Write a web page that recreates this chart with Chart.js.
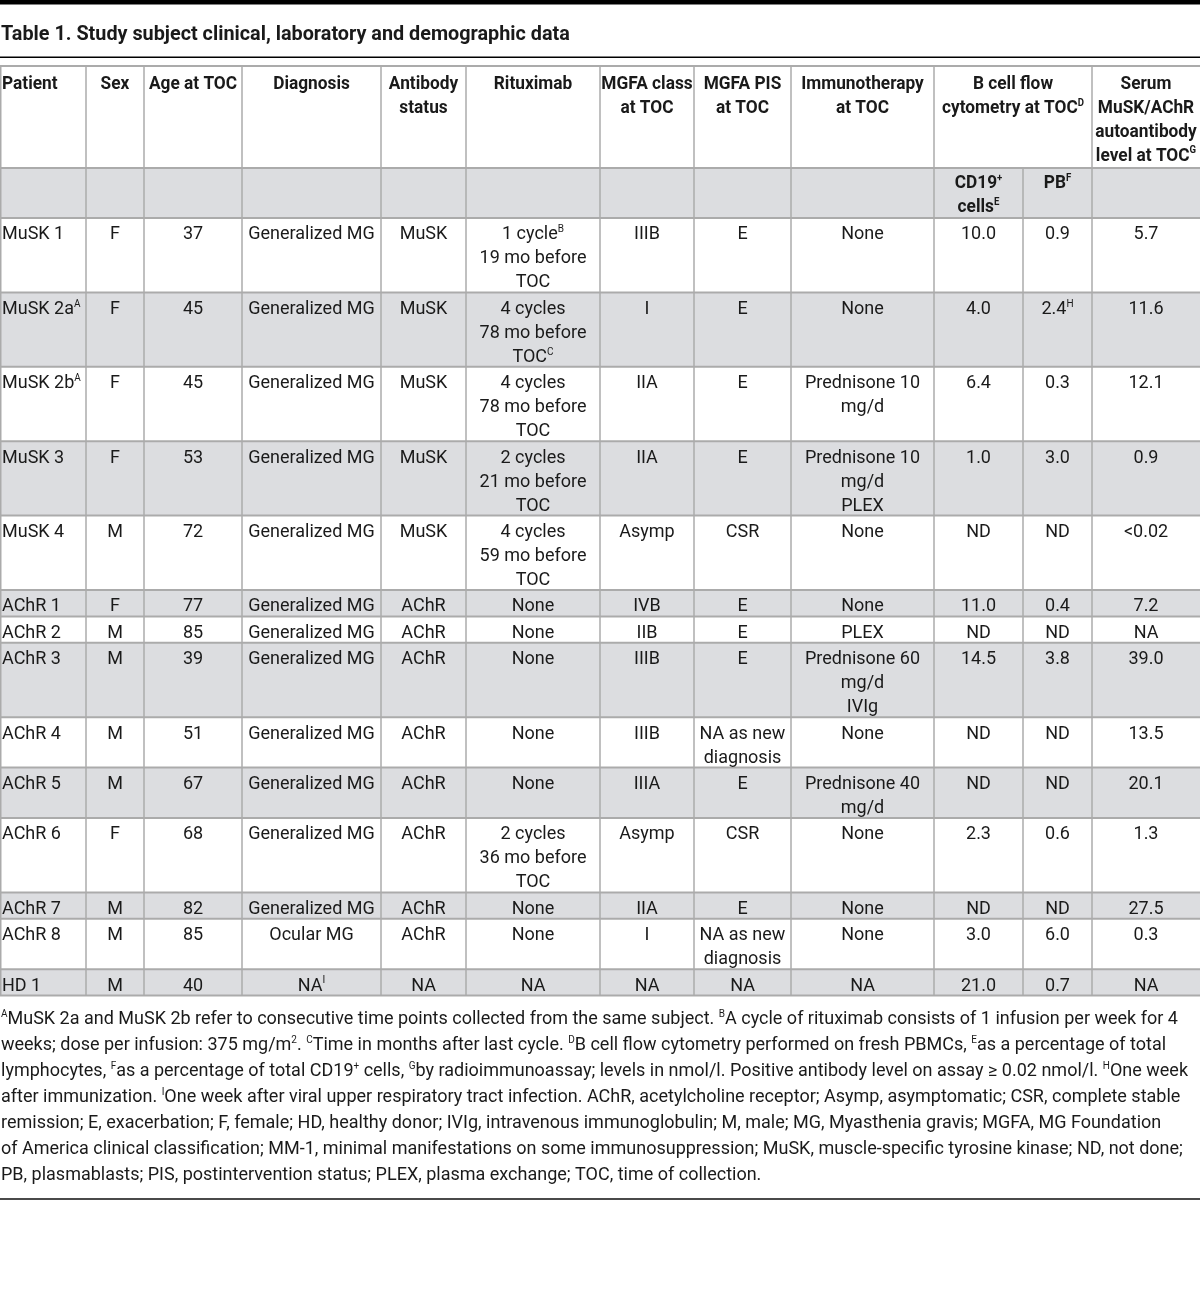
<!DOCTYPE html>
<html>
<head>
<meta charset="utf-8">
<script src="https://cdn.jsdelivr.net/npm/chart.js@4"></script>
<style>
  html, body { margin: 0; padding: 0; background: #fff; }
  canvas { display: block; }
</style>
</head>
<body>
<canvas id="tableChart" width="1200" height="1307"></canvas>
<script>
// table content, "^X" marks a superscript, "\n" a line break inside a cell
const title = 'Table 1. Study subject clinical, laboratory and demographic data';
const headers = ['Patient', 'Sex', 'Age at TOC', 'Diagnosis', 'Antibody\nstatus', 'Rituximab',
    'MGFA class\nat TOC', 'MGFA PIS\nat TOC', 'Immunotherapy\nat TOC', 'B cell flow\ncytometry at TOC^D',
    'Serum\nMuSK/AChR\nautoantibody\nlevel at TOC^G'];
const subHeaders = ['CD19^+\ncells^E', 'PB^F'];

const patients = ['MuSK 1', 'MuSK 2a^A', 'MuSK 2b^A', 'MuSK 3', 'MuSK 4', 'AChR 1', 'AChR 2', 'AChR 3',
    'AChR 4', 'AChR 5', 'AChR 6', 'AChR 7', 'AChR 8', 'HD 1'];
const sexes = ['F', 'F', 'F', 'F', 'M', 'F', 'M', 'M', 'M', 'M', 'F', 'M', 'M', 'M'];
const ages = ['37', '45', '45', '53', '72', '77', '85', '39', '51', '67', '68', '82', '85', '40'];
const diagnoses = ['Generalized MG', 'Generalized MG', 'Generalized MG', 'Generalized MG', 'Generalized MG',
    'Generalized MG', 'Generalized MG', 'Generalized MG', 'Generalized MG', 'Generalized MG',
    'Generalized MG', 'Generalized MG', 'Ocular MG', 'NA^I'];
const antibodyStatus = ['MuSK', 'MuSK', 'MuSK', 'MuSK', 'MuSK', 'AChR', 'AChR', 'AChR', 'AChR', 'AChR',
    'AChR', 'AChR', 'AChR', 'NA'];
const rituximab = ['1 cycle^B\n19 mo before\nTOC', '4 cycles\n78 mo before\nTOC^C', '4 cycles\n78 mo before\nTOC',
    '2 cycles\n21 mo before\nTOC', '4 cycles\n59 mo before\nTOC', 'None', 'None', 'None', 'None', 'None',
    '2 cycles\n36 mo before\nTOC', 'None', 'None', 'NA'];
const mgfaClass = ['IIIB', 'I', 'IIA', 'IIA', 'Asymp', 'IVB', 'IIB', 'IIIB', 'IIIB', 'IIIA', 'Asymp', 'IIA', 'I', 'NA'];
const mgfaPis = ['E', 'E', 'E', 'E', 'CSR', 'E', 'E', 'E', 'NA as new\ndiagnosis', 'E', 'CSR', 'E',
    'NA as new\ndiagnosis', 'NA'];
const immunotherapy = ['None', 'None', 'Prednisone 10\nmg/d', 'Prednisone 10\nmg/d\nPLEX', 'None', 'None', 'PLEX',
    'Prednisone 60\nmg/d\nIVIg', 'None', 'Prednisone 40\nmg/d', 'None', 'None', 'None', 'NA'];
const cd19Cells = ['10.0', '4.0', '6.4', '1.0', 'ND', '11.0', 'ND', '14.5', 'ND', 'ND', '2.3', 'ND', '3.0', '21.0'];
const plasmablasts = ['0.9', '2.4^H', '0.3', '3.0', 'ND', '0.4', 'ND', '3.8', 'ND', 'ND', '0.6', 'ND', '6.0', '0.7'];
const serumLevels = ['5.7', '11.6', '12.1', '0.9', '<0.02', '7.2', 'NA', '39.0', '13.5', '20.1', '1.3', '27.5', '0.3', 'NA'];

const footnotes = [
    '^AMuSK 2a and MuSK 2b refer to consecutive time points collected from the same subject. ^BA cycle of rituximab consists of 1 infusion per week for 4',
    'weeks; dose per infusion: 375 mg/m^2. ^CTime in months after last cycle. ^DB cell flow cytometry performed on fresh PBMCs, ^Eas a percentage of total',
    'lymphocytes, ^Fas a percentage of total CD19^+ cells, ^Gby radioimmunoassay; levels in nmol/l. Positive antibody level on assay \u2265 0.02 nmol/l. ^HOne week',
    'after immunization. ^IOne week after viral upper respiratory tract infection. AChR, acetylcholine receptor; Asymp, asymptomatic; CSR, complete stable',
    'remission; E, exacerbation; F, female; HD, healthy donor; IVIg, intravenous immunoglobulin; M, male; MG, Myasthenia gravis; MGFA, MG Foundation',
    'of America clinical classification; MM-1, minimal manifestations on some immunosuppression; MuSK, muscle-specific tyrosine kinase; ND, not done;',
    'PB, plasmablasts; PIS, postintervention status; PLEX, plasma exchange; TOC, time of collection.'
];

// layout (in the chart's value units)
const colEdges = [0, 86, 144, 242, 381, 466, 600, 694, 791, 934, 1023, 1092, 1200];
const tableTop = 66, headerHeight = 102, subHeaderHeight = 50;
const lineStep = 24, rowPad = 2.4;
const FONT = 'Roboto, "Noto Sans", sans-serif';
const INK = '#1a1a1a', GRID = '#ababab', STRIPE = '#dcdde0';

const columns = [patients, sexes, ages, diagnoses, antibodyStatus, rituximab, mgfaClass, mgfaPis,
    immunotherapy, cd19Cells, plasmablasts, serumLevels];

function parts(text) {
    const out = [];
    const re = /\^(.)/g;
    let last = 0, m;
    while ((m = re.exec(text))) {
        if (m.index > last) out.push({t: text.slice(last, m.index), sup: false});
        out.push({t: m[1], sup: true});
        last = re.lastIndex;
    }
    if (last < text.length) out.push({t: text.slice(last), sup: false});
    return out;
}

function drawRich(ctx, text, x, y, align, size, weight, sx) {
    const segs = parts(text);
    const big = weight + ' ' + size + 'px ' + FONT;
    const small = weight + ' ' + Math.round(size * 0.55) + 'px ' + FONT;
    let w = 0;
    segs.forEach(s => { ctx.font = s.sup ? small : big; s.w = ctx.measureText(s.t).width; w += s.w; });
    w *= sx;
    let cx = align === 'center' ? x - w / 2 : x;
    ctx.textBaseline = 'alphabetic';
    ctx.textAlign = 'left';
    segs.forEach(s => {
        ctx.font = s.sup ? small : big;
        ctx.save();
        ctx.translate(cx, y + (s.sup ? -size * 0.4 : 0) + size * 0.36);
        ctx.scale(sx, 1);
        ctx.fillText(s.t, 0, 0);
        ctx.restore();
        cx += s.w * sx;
    });
    return w;
}

function lineCount(text) { return text.split('\n').length; }

const tablePlugin = {
    id: 'tableCells',
    beforeDraw(chart) {
        const ctx = chart.ctx;
        ctx.save();
        ctx.fillStyle = '#fff';
        ctx.fillRect(0, 0, chart.width, chart.height);
        ctx.restore();
    },
    afterDraw(chart) {
        const {ctx, scales: {x, y}} = chart;
        const px = v => x.getPixelForValue(v);
        const py = v => y.getPixelForValue(v);
        ctx.save();

        // rules above and below the title
        ctx.fillStyle = '#000';
        ctx.fillRect(px(0), py(0), px(1200) - px(0), py(4.5) - py(0));
        ctx.fillRect(px(0), py(56.5), px(1200) - px(0), 1.5);

        ctx.fillStyle = INK;
        drawRich(ctx, title, px(1), py(33), 'left', 20, 'bold', 0.99);

        // row boundaries
        const rowTops = [];
        let top = tableTop + headerHeight + subHeaderHeight;
        patients.forEach((p, i) => {
            const n = Math.max(...columns.map(c => lineCount(c[i])));
            rowTops.push([top, top + n * lineStep + rowPad]);
            top += n * lineStep + rowPad;
        });
        const tableBottom = top;

        // stripes
        ctx.fillStyle = STRIPE;
        const subTop = tableTop + headerHeight;
        ctx.fillRect(px(0), py(subTop), px(1200) - px(0), py(subTop + subHeaderHeight) - py(subTop));
        rowTops.forEach(([a, b], i) => {
            if (i % 2 === 1) ctx.fillRect(px(0), py(a), px(1200) - px(0), py(b) - py(a));
        });

        // grid
        ctx.strokeStyle = GRID;
        ctx.lineWidth = 2;
        const hLines = [tableTop, subTop, subTop + subHeaderHeight, ...rowTops.map(r => r[1])];
        hLines.forEach(v => {
            ctx.beginPath();
            ctx.moveTo(px(0), py(v));
            ctx.lineTo(px(1200), py(v));
            ctx.stroke();
        });
        ctx.lineWidth = 1.5;
        colEdges.forEach((c, i) => {
            if (i === colEdges.length - 1) return;
            const start = c === 1023 ? subTop : tableTop;
            ctx.beginPath();
            ctx.moveTo(px(c) + (i === 0 ? 0.75 : 0), py(start));
            ctx.lineTo(px(c) + (i === 0 ? 0.75 : 0), py(tableBottom));
            ctx.stroke();
        });

        ctx.fillStyle = INK;
        // header cells
        const headerCols = [0, 1, 2, 3, 4, 5, 6, 7, 8, 9, 11];
        headers.forEach((h, k) => {
            const ci = headerCols[k];
            const l = colEdges[ci];
            const r = colEdges[ci === 9 ? 11 : ci + 1];
            h.split('\n').forEach((line, j) => {
                const yy = py(tableTop + 17 + j * 23.7);
                if (ci === 0) drawRich(ctx, line, px(l + 2), yy, 'left', 18, 'bold', 0.96);
                else drawRich(ctx, line, px((l + r) / 2), yy, 'center', 18, 'bold', 0.96);
            });
        });
        subHeaders.forEach((h, k) => {
            const l = colEdges[9 + k], r = colEdges[10 + k];
            h.split('\n').forEach((line, j) => {
                drawRich(ctx, line, px((l + r) / 2), py(subTop + 14 + j * 24), 'center', 18, 'bold', 0.96);
            });
        });

        // body cells
        columns.forEach((col, ci) => {
            const l = colEdges[ci], r = colEdges[ci + 1];
            col.forEach((text, ri) => {
                text.split('\n').forEach((line, j) => {
                    const yy = py(rowTops[ri][0] + 15 + j * lineStep);
                    if (ci === 0) drawRich(ctx, line, px(l + 2), yy, 'left', 18, 'normal', 1.0);
                    else drawRich(ctx, line, px((l + r) / 2), yy, 'center', 18, 'normal', 1.0);
                });
            });
        });

        // footnotes
        footnotes.forEach((f, j) => {
            drawRich(ctx, f, px(1), py(tableBottom + 22 + j * 26), 'left', 18, 'normal', 1.0);
        });

        ctx.fillStyle = '#4a4a4a';
        ctx.fillRect(px(0), py(1198), px(1200) - px(0), 2);
        ctx.restore();
    }
};

window.addEventListener('load', function () {
    new Chart(document.getElementById('tableChart').getContext('2d'), {
        type: 'scatter',
        data: {datasets: [{data: []}]},
        options: {
            responsive: false,
            animation: false,
            events: [],
            layout: {padding: 0},
            plugins: {legend: {display: false}, tooltip: {enabled: false}},
            scales: {
                x: {type: 'linear', min: 0, max: 1200, display: false},
                y: {type: 'linear', min: 0, max: 1307, reverse: true, display: false}
            }
        },
        plugins: [tablePlugin]
    });
});
</script>
</body>
</html>
